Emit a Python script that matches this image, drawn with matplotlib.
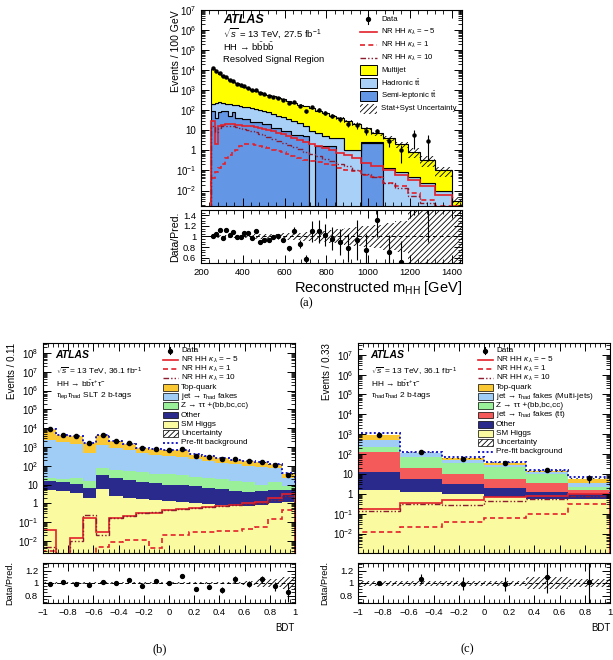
import numpy as np
import matplotlib
matplotlib.use('Agg')
import matplotlib.pyplot as plt
from matplotlib.patches import Rectangle
from matplotlib.ticker import LogLocator, NullFormatter, FuncFormatter, MultipleLocator, FixedLocator

plt.rcParams['font.family'] = ['Liberation Sans', 'DejaVu Sans']
plt.rcParams['mathtext.fontset'] = 'custom'
plt.rcParams['mathtext.rm'] = 'Liberation Sans'
plt.rcParams['mathtext.it'] = 'Liberation Sans:italic'
plt.rcParams['mathtext.bf'] = 'Liberation Sans:bold'
plt.rcParams['hatch.linewidth'] = 0.6
plt.rcParams['axes.linewidth'] = 0.8

# ---------------- (a) HH -> bbbb, resolved signal region ----------------
mhh_edges = [250, 266, 282, 298, 314, 330, 347, 364, 381, 398, 416, 434, 453, 472, 492,
             513, 535, 558, 582, 607, 633, 660, 688, 717, 747, 779, 812, 847, 884, 924,
             968, 1016, 1070, 1130, 1190, 1250, 1320, 1400, 1450]
semilep_tt = [95.5, 43.7, 79.4, 95.5, 95.5, 53.7, 79.4, 43.7, 43.7, 36.3, 36.3, 26.3, 26.3,
              26.3, 20, 20, 13.5, 13.5, 9.1, 9.1, 6.2, 6.2, 5.2, 0, 1.6, 1.6, 1.6, 0, 0, 0,
              2.3, 2.3, 0, 0, 0, 0, 0, 0]
hadronic_tt = [113, 196, 172, 134, 118, 146, 111, 134, 122, 115, 105, 106, 94, 81, 73, 59,
               52.6, 41.5, 35.6, 26.4, 22, 16.2, 10.6, 8.9, 5.5, 3.4, 2.6, 4.2, 1.1, 1.1,
               0.2, 0.2, 0.14, 0.08, 0.05, 0.025, 0.01, 0]
multijet = [11814, 8271, 6059, 4783, 3767, 2962, 2439, 2010, 1654, 1363, 1118, 940, 813,
            687, 583, 496, 424, 362, 310, 246, 206, 168, 142, 117, 88.4, 67.4, 50.8, 35.6,
            27.1, 18.9, 10.1, 4.6, 3.86, 1.92, 0.82, 0.31, 0.09, 0.003]
hh_a_m5 = [30, 2.0, 16.6, 17.8, 20, 20, 20, 19, 18.2, 17.4, 16.6, 15.8, 14.1, 12.6, 11.2,
           10, 8.9, 7.6, 6.3, 5.1, 4.2, 3.3, 2.6, 2.0, 1.6, 1.26, 1.0, 0.76, 0.56, 0.40,
           0.25, 0.16, 0.10, 0.063, 0.032, 0.016, 0.0063, 0.0018]
hh_a_1 = [0.04, 0.08, 0.13, 0.22, 0.4, 0.56, 0.8, 1.1, 1.6, 2.0, 2.1, 2.0, 1.9, 1.7, 1.5,
          1.3, 1.1, 0.95, 0.8, 0.63, 0.52, 0.44, 0.35, 0.3, 0.26, 0.22, 0.19, 0.14, 0.11,
          0.09, 0.063, 0.045, 0.025, 0.016, 0.008, 0.0035, 0.0018, 0.0003]
hh_a_10 = [16, 8, 12.6, 15.8, 16.6, 16.6, 15.8, 14.8, 13.5, 12, 10.7, 9.3, 7.9, 6.8, 5.6,
           4.6, 3.7, 3.0, 2.4, 1.9, 1.5, 1.15, 0.87, 0.66, 0.5, 0.38, 0.3, 0.22, 0.16,
           0.11, 0.07, 0.045, 0.025, 0.014, 0.0056, 0.0025, 0.0006, 0.0003]
ratio_a = [1.01, 1.04, 1.13, 0.98, 1.13, 1.02, 1.09, 0.99, 0.99, 1.06, 1.06, 0.97, 1.11,
           0.89, 0.94, 0.94, 0.99, 1.00, 0.94, 0.78, 1.11, 0.86, 0.57, 1.10, 1.10, 1.03,
           0.96, 0.90, 0.78, 0.94, 0.75, 1.32, 0.70, 0.52, 7.0, 9.0, np.nan, np.nan]
ratio_a_err = [0.015, 0.02, 0.02, 0.02, 0.02, 0.02, 0.025, 0.025, 0.025, 0.03, 0.03, 0.03,
               0.03, 0.035, 0.035, 0.04, 0.04, 0.045, 0.05, 0.05, 0.07, 0.08, 0.09, 0.2,
               0.22, 0.2, 0.22, 0.25, 0.27, 0.38, 0.3, 0.33, 0.33, 0.4, 5.6, 8.1, np.nan, np.nan]
unc_a = [0.03, 0.03, 0.03, 0.03, 0.03, 0.03, 0.03, 0.03, 0.035, 0.035, 0.035, 0.035, 0.04,
         0.04, 0.04, 0.04, 0.05, 0.05, 0.06, 0.06, 0.07, 0.07, 0.08, 0.09, 0.1, 0.11, 0.12,
         0.14, 0.16, 0.18, 0.2, 0.22, 0.25, 0.3, 0.5, 0.55, 0.55, 0.6]

# ---------------- (b) bbtautau lep-had SLT ----------------
higgs_b = [5.25, 4.47, 3.55, 2.0, 5.62, 2.51, 2.0, 1.78, 1.58, 1.32, 1.12, 1.05, 0.89, 0.79,
           0.71, 0.71, 0.79, 1.0, 1.26]
other_b = [10.2, 9.65, 7.65, 4.31, 26.0, 19.9, 15.8, 12.7, 10.4, 8.7, 8.4, 6.9, 5.7, 4.83,
           4.08, 3.09, 3.68, 4.25, 3.74]
ztt_b = [5.9, 5.85, 11.2, 9.5, 47.8, 40.7, 34.7, 30.2, 26.0, 25.5, 22.0, 18.4, 15.8, 13.5,
         11.0, 9.4, 5.53, 8.85, 3.3]
fakes_b = [2218, 1758, 1391, 485, 1180, 788, 608, 456, 360, 296, 250, 198, 156, 129, 104,
           86.8, 79.1, 65.3, 14.1]
top_b = [6674, 2689, 2302, 1084, 2910, 1144, 853, 390, 396, 330, 426, 156, 138, 115, 89,
         86, 62, 38, 15.6]
prefit_b = [9500, 4400, 3700, 1650, 4300, 2050, 1450, 900, 820, 680, 700, 400, 330, 260,
            205, 190, 150, 118, 40]
hh_b_m5 = [0.038, 0, 0.014, 0.16, 0.032, 0.16, 0.21, 0.30, 0.32, 0.44, 0.50, 0.54, 0.63,
           0.76, 0.81, 1.0, 1.26, 2.0, 3.3]
hh_b_1 = [0.003, 0, 0, 0, 0.005, 0.009, 0.011, 0.012, 0.004, 0.02, 0.022, 0.03, 0.03,
          0.035, 0.035, 0.045, 0.055, 0.15, 0.42]
hh_b_10 = [0.005, 0, 0.01, 0.24, 0.02, 0.17, 0.22, 0.32, 0.33, 0.45, 0.5, 0.55, 0.62, 0.72,
           0.78, 0.92, 1.1, 1.6, 2.4]
ratio_b = [0.99, 1.01, 0.99, 0.97, 1.02, 1.0, 1.05, 0.96, 1.03, 1.0, 1.12, 0.9, 0.94, 0.89,
           1.06, 0.99, 1.06, 0.95, 0.85]
ratio_b_err = [0.01, 0.012, 0.012, 0.018, 0.012, 0.016, 0.02, 0.024, 0.025, 0.028, 0.027,
               0.035, 0.04, 0.045, 0.06, 0.05, 0.06, 0.07, 0.15]
unc_b = [0.02, 0.02, 0.02, 0.02, 0.02, 0.02, 0.02, 0.02, 0.02, 0.02, 0.02, 0.02, 0.02, 0.02,
         0.02, 0.025, 0.06, 0.06, 0.1]

# ---------------- (c) bbtautau had-had ----------------
higgs_c = [1.62, 1.26, 0.955, 0.71, 0.575, 0.575]
other_c = [11.3, 4.0, 2.06, 1.15, 0.685, 0.445]
ttfake_c = [119, 13.8, 7.5, 4.03, 2.05, 0.49]
ztt_c = [102, 55.1, 23.4, 15.5, 6.46, 0.73]
mjfake_c = [267, 32.9, 16.2, 6.1, 3.13, 1.07]
top_c = [411, 10.5, 10.2, 8.8, 1.6, 2.58]
prefit_c = [1096, 132, 74, 41, 15.5, 7.2]
hh_c_m5 = [0.17, 0.36, 0.48, 0.71, 0.79, 1.02]
hh_c_1 = [0.012, 0.021, 0.038, 0.06, 0.1, 0.32]
hh_c_10 = [0.13, 0.32, 0.26, 0.44, 0.58, 0.79]
ratio_c = [1.0, 1.07, 0.99, 0.98, 1.09, 1.02]
ratio_c_err = [0.02, 0.07, 0.1, 0.11, 0.25, 0.4]
unc_c = [0.04, 0.04, 0.04, 0.04, 0.1, 0.06]

bdt_edges_b = np.linspace(-1, 1, 20)
bdt_edges_c = np.linspace(-1, 1, 7)

RED = '#e3202a'
DKRED = '#8c1c30'


def log_fmt(v, pos):
    e = int(round(np.log10(v)))
    if e == 0:
        return '1'
    if e == 1:
        return '10'
    return '$10^{%d}$' % e


def num_fmt(v, pos):
    s = '%g' % round(v, 3)
    return s.replace('-', '\u2212')


def style_axes(ax, fs=7):
    ax.tick_params(which='both', direction='in', top=True, right=True, labelsize=fs)
    ax.tick_params(which='major', length=5.5, width=0.7)
    ax.tick_params(which='minor', length=3, width=0.6)


def style_log(ax):
    ax.set_yscale('log')
    ax.yaxis.set_major_locator(LogLocator(base=10, numticks=30))
    ax.yaxis.set_minor_locator(LogLocator(base=10, subs=np.arange(2, 10), numticks=30))
    ax.yaxis.set_major_formatter(FuncFormatter(log_fmt))
    ax.yaxis.set_minor_formatter(NullFormatter())


def draw_stack(ax, edges, comps, colors, outline):
    base = np.full(len(comps[0]), 1e-6)
    for vals, col in zip(comps, colors):
        top = base + np.asarray(vals, float)
        if outline:
            ax.stairs(top, edges, baseline=base, fill=True, facecolor=col,
                      edgecolor='k', lw=0.8)
        else:
            ax.stairs(top, edges, baseline=base, fill=True, facecolor=col, lw=0)
        base = top
    return base


def draw_legend(ax, items, x0, x1, xt, y0, dy, fs, bh):
    for i, (kind, kw, label) in enumerate(items):
        y = y0 - i * dy
        xm = 0.5 * (x0 + x1)
        if kind == 'data':
            ax.plot([xm], [y], 'o', color='k', ms=2.8, transform=ax.transAxes)
            ax.plot([xm, xm], [y - dy * 0.4, y + dy * 0.4], color='k', lw=0.8,
                    transform=ax.transAxes)
        elif kind == 'line':
            ax.plot([x0, x1], [y, y], transform=ax.transAxes, **kw)
        else:
            ax.add_patch(Rectangle((x0, y - bh / 2), x1 - x0, bh, transform=ax.transAxes, **kw))
        ax.text(xt, y, label, transform=ax.transAxes, fontsize=fs, va='center', ha='left')


def ratio_panel(ax, edges, ratio, err, unc, ylim, yticks, lab_fs):
    edges = np.asarray(edges, float)
    centers = 0.5 * (edges[1:] + edges[:-1])
    unc = np.asarray(unc)
    ax.stairs(1 + unc, edges, baseline=1 - unc, fill=True, facecolor='none',
              edgecolor='k', hatch='//////', lw=0)
    ax.axhline(1, color='k', lw=0.7, ls=(0, (4, 3)))
    ax.errorbar(centers, ratio, yerr=err, fmt='o', ms=2.8, color='k', elinewidth=0.8,
                capsize=0)
    ax.set_xlim(edges[0], edges[-1])
    ax.set_ylim(*ylim)
    ax.yaxis.set_major_locator(FixedLocator(yticks))
    ax.yaxis.set_major_formatter(FuncFormatter(num_fmt))
    ax.set_ylabel('Data/Pred.', fontsize=lab_fs)


W, H = 613, 660
fig = plt.figure(figsize=(W / 100, H / 100), dpi=100)


def box(x0, y0, x1, y1):
    return [x0 / W, 1 - y1 / H, (x1 - x0) / W, (y1 - y0) / H]


# ======================= (a) =======================
ax = fig.add_axes(box(201, 10, 462, 206))
axr = fig.add_axes(box(201, 210, 462, 263))
edges = np.asarray(mhh_edges, float)
centers = 0.5 * (edges[1:] + edges[:-1])
total_a = draw_stack(ax, edges, [semilep_tt, hadronic_tt, multijet],
                     ['#6496e6', '#a9d1f7', '#ffff00'], True)
ua = np.asarray(unc_a)
ax.stairs(total_a * (1 + ua), edges, baseline=total_a * (1 - ua), fill=True,
          facecolor='none', edgecolor='k', hatch='//////', lw=0)
ax.stairs(hh_a_m5, edges, color=RED, lw=1.2)
ax.stairs(hh_a_1, edges, color=RED, lw=1.2, ls=(0, (3, 2)))
ax.stairs(hh_a_10, edges, color=DKRED, lw=1.0, ls=(0, (4, 1.5, 1, 1.5, 1, 1.5)))
data_a = np.asarray(ratio_a) * total_a
ax.errorbar(centers, data_a, yerr=np.asarray(ratio_a_err) * total_a, fmt='o', ms=2.2,
            color='k', elinewidth=0.8, capsize=0)
style_log(ax)
ax.set_xlim(200, 1450)
ax.set_ylim(1.7e-3, 1e7)
style_axes(ax)
ax.xaxis.set_major_locator(MultipleLocator(200))
ax.xaxis.set_minor_locator(MultipleLocator(40))
ax.set_xticklabels([])
ax.set_ylabel('Events / 100 GeV', fontsize=7.5, loc='top')
ax.text(0.085, 0.95, 'ATLAS', transform=ax.transAxes, fontsize=9, fontweight='bold',
        style='italic', va='center')
ax.text(0.085, 0.883, '$\\sqrt{s}$ = 13 TeV, 27.5 fb$^{-1}$', transform=ax.transAxes,
        fontsize=6.8, va='center')
ax.text(0.085, 0.813, 'HH \u2192 $\\mathrm{b\\bar{b}b\\bar{b}}$', transform=ax.transAxes,
        fontsize=6.8, va='center')
ax.text(0.085, 0.745, 'Resolved Signal Region', transform=ax.transAxes, fontsize=6.8,
        va='center')
draw_legend(ax, [
    ('data', None, 'Data'),
    ('line', dict(color=RED, lw=1.2), 'NR HH $\\kappa_{\\lambda}$ = \u2212 5'),
    ('line', dict(color=RED, lw=1.2, ls=(0, (3, 2))), 'NR HH $\\kappa_{\\lambda}$ = 1'),
    ('line', dict(color=DKRED, lw=1.0, ls=(0, (4, 1.5, 1, 1.5, 1, 1.5))),
     'NR HH $\\kappa_{\\lambda}$ = 10'),
    ('box', dict(facecolor='#ffff00', edgecolor='k', lw=0.7), 'Multijet'),
    ('box', dict(facecolor='#a9d1f7', edgecolor='k', lw=0.7), 'Hadronic $\\mathrm{t\\bar{t}}$'),
    ('box', dict(facecolor='#6496e6', edgecolor='k', lw=0.7),
     'Semi-leptonic $\\mathrm{t\\bar{t}}$'),
    ('box', dict(facecolor='none', edgecolor='k', lw=0, hatch='//////'),
     'Stat+Syst Uncertainty'),
], 0.609, 0.674, 0.69, 0.954, 0.0655, 5.6, 0.05)

ratio_panel(axr, edges, ratio_a, ratio_a_err, unc_a, (0.5, 1.5), [0.6, 0.8, 1.0, 1.2, 1.4], 7.6)
axr.set_xlim(200, 1450)
style_axes(axr, 6.8)
axr.xaxis.set_major_locator(MultipleLocator(200))
axr.xaxis.set_minor_locator(MultipleLocator(40))
axr.yaxis.set_minor_locator(MultipleLocator(0.05))
axr.set_xlabel('Reconstructed $\\mathrm{m_{HH}}$ [GeV]', fontsize=10.5, loc='right')
axr.xaxis.set_label_coords(1.0, -0.3)
axr.yaxis.set_label_coords(-0.08, 0.5)
ax.yaxis.set_label_coords(-0.075, 1.0)
fig.text(306 / W, 1 - 303 / H, '(a)', ha='center', va='center', fontsize=9,
         family='Liberation Serif')


# ======================= (b) and (c) =======================
def bbtt_panel(x0, x1, edges, comps, colors, prefit, sigs, ratio, err, unc, ylim,
               ylabel, lines, legend_items, caption, cap_x):
    ax = fig.add_axes(box(x0, 343, x1, 553))
    axr = fig.add_axes(box(x0, 563, x1, 603))
    edges = np.asarray(edges, float)
    centers = 0.5 * (edges[1:] + edges[:-1])
    total = draw_stack(ax, edges, comps, colors, False)
    u = np.asarray(unc)
    ax.stairs(total * (1 + u), edges, baseline=total * (1 - u), fill=True,
              facecolor='none', edgecolor='k', hatch='//////', lw=0)
    ax.stairs(prefit, edges, color='#1a1acc', lw=1.4, ls=(0, (1, 1.2)))
    ax.stairs(sigs[0], edges, color=RED, lw=1.2)
    ax.stairs(sigs[1], edges, color=RED, lw=1.2, ls=(0, (3, 2)))
    ax.stairs(sigs[2], edges, color=DKRED, lw=1.0, ls=(0, (4, 1.5, 1, 1.5, 1, 1.5)))
    ax.errorbar(centers, np.asarray(ratio) * total, yerr=np.asarray(err) * total, fmt='o',
                ms=3, color='k', elinewidth=0.8, capsize=0)
    style_log(ax)
    ax.set_xlim(-1, 1)
    ax.set_ylim(*ylim)
    style_axes(ax)
    ax.xaxis.set_major_locator(MultipleLocator(0.2))
    ax.xaxis.set_minor_locator(MultipleLocator(0.04))
    ax.set_xticklabels([])
    ax.set_ylabel(ylabel, fontsize=7, loc='top')
    ax.yaxis.set_label_coords(-0.105, 1.0)
    ax.text(0.05, 0.943, 'ATLAS', transform=ax.transAxes, fontsize=7.5, fontweight='bold',
            style='italic', va='center')
    for (yy, s) in lines:
        ax.text(0.05, yy, s, transform=ax.transAxes, fontsize=6, va='center')
    draw_legend(ax, legend_items, 0.476, 0.535, 0.548, 0.963, 0.0437, 5.9, 0.032)

    ratio_panel(axr, edges, ratio, err, unc, (0.68, 1.32), [0.8, 1.0, 1.2], 6.6)
    style_axes(axr, 6.8)
    axr.xaxis.set_major_locator(MultipleLocator(0.2))
    axr.xaxis.set_minor_locator(MultipleLocator(0.04))
    axr.yaxis.set_minor_locator(MultipleLocator(0.05))
    axr.xaxis.set_major_formatter(FuncFormatter(num_fmt))
    axr.set_xlabel('BDT', fontsize=7, loc='right')
    axr.xaxis.set_label_coords(1.0, -0.5)
    axr.yaxis.set_label_coords(-0.115, 0.5)
    fig.text(cap_x / W, 1 - 649 / H, caption, ha='center', va='center', fontsize=9,
             family='Liberation Serif')


sig_items = [
    ('data', None, 'Data'),
    ('line', dict(color=RED, lw=1.2), 'NR HH $\\kappa_{\\lambda}$ = \u2212 5'),
    ('line', dict(color=RED, lw=1.2, ls=(0, (3, 2))), 'NR HH $\\kappa_{\\lambda}$ = 1'),
    ('line', dict(color=DKRED, lw=1.0, ls=(0, (4, 1.5, 1, 1.5, 1, 1.5))),
     'NR HH $\\kappa_{\\lambda}$ = 10'),
]
tail_items = [
    ('box', dict(facecolor='#fafaa0', edgecolor='k', lw=0.5), 'SM Higgs'),
    ('box', dict(facecolor='white', edgecolor='k', lw=0.5, hatch='//////'), 'Uncertainty'),
    ('line', dict(color='#1a1acc', lw=1.4, ls=(0, (1, 1.2))), 'Pre-fit background'),
]
TOPC, FAKEC, ZC, OTHC, HIGC, TTFC = '#fac832', '#a0cdf5', '#99f099', '#2a2a8c', '#fafaa0', '#f55a5a'

bbtt_panel(43, 295, bdt_edges_b, [higgs_b, other_b, ztt_b, fakes_b, top_b],
           [HIGC, OTHC, ZC, FAKEC, TOPC], prefit_b, [hh_b_m5, hh_b_1, hh_b_10],
           ratio_b, ratio_b_err, unc_b, (2.3e-3, 3.4e8), 'Events / 0.11',
           [(0.863, '$\\sqrt{s}$ = 13 TeV, 36.1 fb$^{-1}$'),
            (0.808, 'HH \u2192 $\\mathrm{b\\bar{b}\\tau^{+}\\tau^{-}}$'),
            (0.749, '$\\tau_{\\mathrm{lep}}\\tau_{\\mathrm{had}}$ SLT 2 b-tags')],
           sig_items + [
               ('box', dict(facecolor=TOPC, edgecolor='k', lw=0.5), 'Top-quark'),
               ('box', dict(facecolor=FAKEC, edgecolor='k', lw=0.5),
                'jet \u2192 $\\tau_{\\mathrm{had}}$ fakes'),
               ('box', dict(facecolor=ZC, edgecolor='k', lw=0.5),
                'Z \u2192 \u03c4\u03c4 +(bb,bc,cc)'),
               ('box', dict(facecolor=OTHC, edgecolor='k', lw=0.5), 'Other'),
           ] + tail_items, '(b)', 160)

bbtt_panel(358, 610, bdt_edges_c, [higgs_c, other_c, ttfake_c, ztt_c, mjfake_c, top_c],
           [HIGC, OTHC, TTFC, ZC, FAKEC, TOPC], prefit_c, [hh_c_m5, hh_c_1, hh_c_10],
           ratio_c, ratio_c_err, unc_c, (1.05e-3, 3.9e7), 'Events / 0.33',
           [(0.863, '$\\sqrt{s}$ = 13 TeV, 36.1 fb$^{-1}$'),
            (0.808, 'HH \u2192 $\\mathrm{b\\bar{b}\\tau^{+}\\tau^{-}}$'),
            (0.749, '$\\tau_{\\mathrm{had}}\\tau_{\\mathrm{had}}$ 2 b-tags')],
           sig_items + [
               ('box', dict(facecolor=TOPC, edgecolor='k', lw=0.5), 'Top-quark'),
               ('box', dict(facecolor=FAKEC, edgecolor='k', lw=0.5),
                'jet \u2192 $\\tau_{\\mathrm{had}}$ fakes (Multi-jets)'),
               ('box', dict(facecolor=ZC, edgecolor='k', lw=0.5),
                'Z \u2192 \u03c4\u03c4 +(bb,bc,cc)'),
               ('box', dict(facecolor=TTFC, edgecolor='k', lw=0.5),
                'jet \u2192 $\\tau_{\\mathrm{had}}$ fakes ($\\mathrm{t\\bar{t}}$)'),
               ('box', dict(facecolor=OTHC, edgecolor='k', lw=0.5), 'Other'),
           ] + tail_items, '(c)', 467)

fig.savefig('out.png', dpi=100)
